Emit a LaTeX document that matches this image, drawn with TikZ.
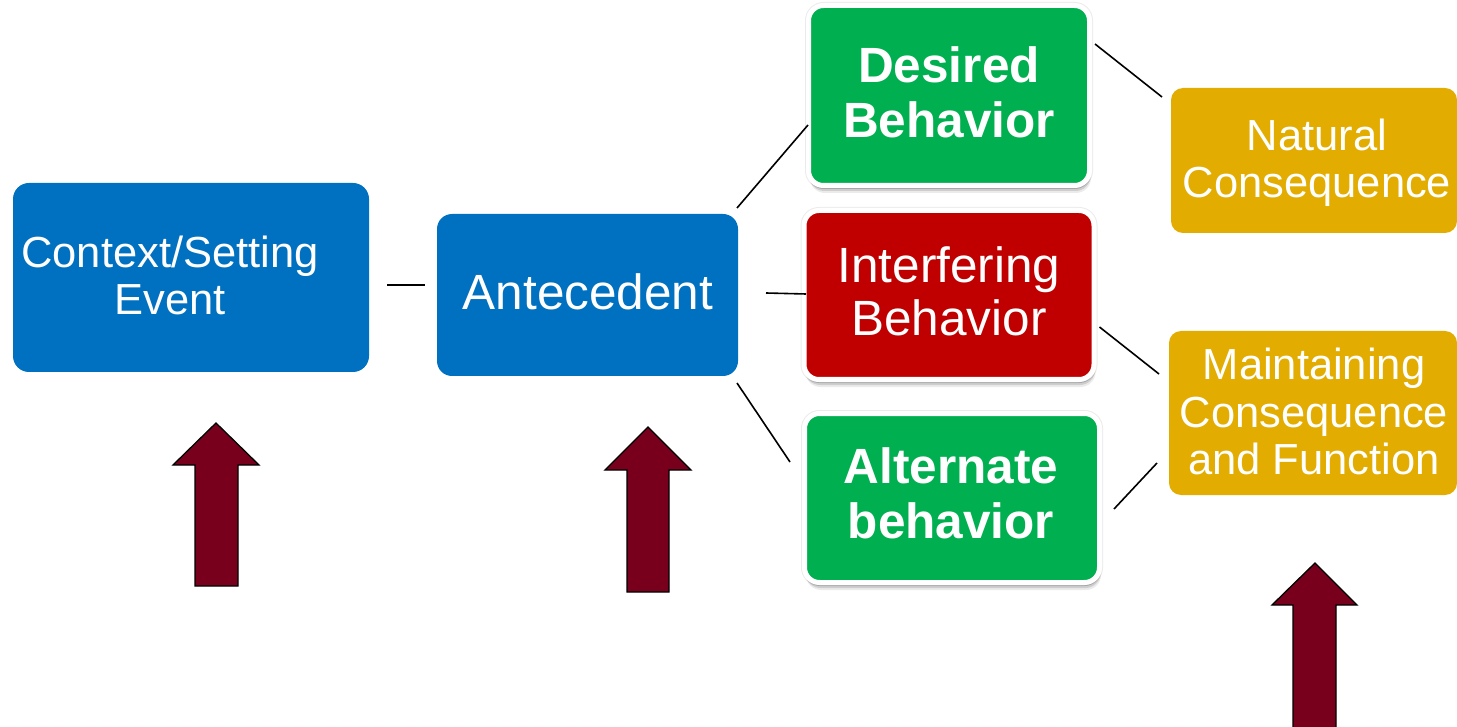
\documentclass[tikz,border=0pt]{standalone}
\usepackage{fontspec}
\setmainfont{Liberation Sans}
\definecolor{boxblue}{HTML}{0070C0}
\definecolor{boxgreen}{HTML}{00B050}
\definecolor{boxred}{HTML}{C00000}
\definecolor{boxgold}{HTML}{E2AC00}
\definecolor{maroon}{RGB}{120,0,28}
\begin{document}
\begin{tikzpicture}[x=1pt,y=-1pt,
  plainbox/.style={rectangle, inner sep=0pt, outer sep=0pt, rounded corners=16pt},
  softshadow/.style={
    preaction={draw=black, line width=7pt, opacity=0.08},
    preaction={fill=black, opacity=0.12, transform canvas={shift={(0.5pt,-3.5pt)}}},
    preaction={fill=black, opacity=0.12, transform canvas={shift={(1pt,-5.5pt)}}},
    preaction={fill=black, opacity=0.08, transform canvas={shift={(1.5pt,-7.5pt)}}}},
  behbox/.style={plainbox, rounded corners=15pt, draw=white, line width=5pt, softshadow},
  goldbox/.style={plainbox, rounded corners=12pt, fill=boxgold},
  lbl/.style={text=white, align=center, inner sep=0pt, outer sep=0pt},
  smallfont/.style={font=\fontsize{43.5}{47}\selectfont},
  bigfont/.style={font=\fontsize{49.5}{53}\selectfont},
  boldfont/.style={font=\fontsize{49.5}{55}\selectfont\bfseries},
  link/.style={draw=black, line width=1.6pt},
  blockarrow/.style={fill=maroon, draw=black, line width=1.3pt, line join=miter}]
\clip (0,0) rectangle (1457,727);

% boxes
\node[plainbox, fill=boxblue, minimum width=356pt, minimum height=189pt] (ctx) at (191,277.5) {};
\node[plainbox, fill=boxblue, rounded corners=15pt, minimum width=301pt, minimum height=162pt] (ant) at (587.5,295) {};
\node[behbox, fill=boxgreen, minimum width=281pt, minimum height=180pt] (des) at (949,95.5) {};
\node[behbox, fill=boxred, minimum width=290pt, minimum height=169pt] (int) at (949,295) {};
\node[behbox, fill=boxgreen, minimum width=295pt, minimum height=169pt] (alt) at (952,498) {};
\node[goldbox, minimum width=286pt, minimum height=145pt] (nat) at (1314,160.5) {};
\node[goldbox, minimum width=288pt, minimum height=164pt] (mai) at (1313,413) {};

% labels
\node[lbl, smallfont] (ctx-t) at (170,275.9) {Context/Setting\\Event};
\node[lbl, bigfont] (ant-t) at (588,292.3) {Antecedent};
\node[lbl, boldfont] (des-t) at (949,92.5) {Desired\\Behavior};
\node[lbl, bigfont] (int-t) at (949,291.8) {Interfering\\Behavior};
\node[lbl, boldfont] (alt-t) at (951,493.5) {Alternate\\behavior};
\node[lbl, smallfont] (nat-t) at (1317,163.2) {Natural\\Consequence};
\node[lbl, font=\fontsize{43.5}{47.5}\selectfont] (mai-t) at (1314,411.9) {Maintaining\\Consequence\\and Function};

% connectors
\draw[link] ([shift={(18,7.5)}]ctx.east) -- ([shift={(-12,-10)}]ant.west);
\draw[link] ([shift={(-1,-6)}]ant.north east) -- ([shift={(-0.5,29.5)}]des.west);
\draw[link] ([shift={(28,-2)}]ant.east) -- ([shift={(2,-1)}]int.west);
\draw[link] ([shift={(-1,7)}]ant.south east) -- ([shift={(-14.5,-36)}]alt.west);
\draw[link] ([shift={(5.5,-51.5)}]des.east) -- ([shift={(-9,-63.5)}]nat.west);
\draw[link] ([shift={(5.5,32)}]int.east) -- ([shift={(-10,-39)}]mai.west);
\draw[link] ([shift={(14.5,11)}]alt.east) -- ([shift={(-12,50)}]mai.west);

% upward block arrows
\draw[blockarrow] (216,423) -- (259,465) -- (238,465) -- (238,586) -- (195,586) -- (195,465) -- (173,465) -- cycle;
\draw[blockarrow] (648,427) -- (691,470) -- (669,470) -- (669,592) -- (627,592) -- (627,470) -- (605,470) -- cycle;
\draw[blockarrow] (1315,563) -- (1357,605) -- (1336,605) -- (1336,740) -- (1293,740) -- (1293,605) -- (1272,605) -- cycle;
\end{tikzpicture}
\end{document}
